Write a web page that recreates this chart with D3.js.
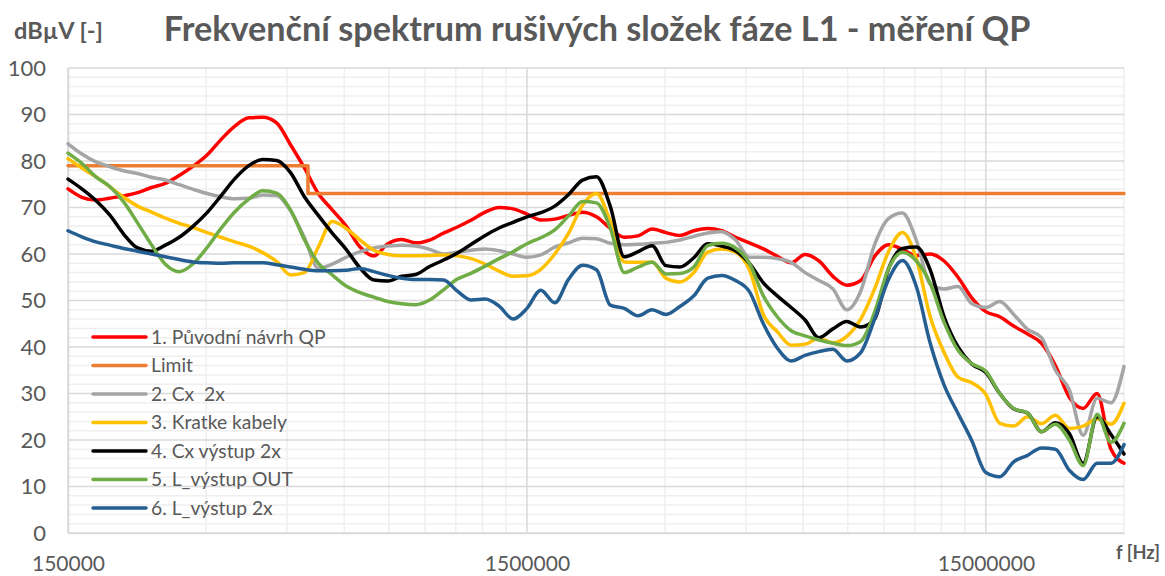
<!DOCTYPE html>
<html>
<head>
<meta charset="utf-8">
<script src="https://cdnjs.cloudflare.com/ajax/libs/d3/7.8.5/d3.min.js"></script>
<style>
  html, body { margin: 0; padding: 0; background: #ffffff; }
  svg { display: block; font-family: Lato, "Open Sans", "Liberation Sans", sans-serif; }
</style>
</head>
<body>
<svg id="chart" width="1165" height="576"></svg>
<script>
// Measurement frequencies (Hz), log spaced, shared by all measured traces
const freqHz = [
  150000, 160800, 172500, 184900, 198300, 212600, 228000, 244500, 262100, 281100,
  301400, 323200, 346500, 371600, 398400, 427200, 458100, 491200, 526700, 564700,
  605600, 649300, 696200, 746600, 800500, 858400, 920400, 986900, 1058200, 1134700,
  1216700, 1304600, 1398900,
  1500000, 1608400, 1724700, 1849200, 1982800, 2126300, 2279800, 2444700, 2621200, 2810700,
  3013800, 3231600, 3465200, 3715700, 3984200, 4272000, 4580800, 4911800, 5266800, 5647400,
  6055500, 6493200, 6962400, 7465500, 8005000, 8583600, 9203900, 9869000, 10582200, 11346900,
  12167000, 13046300, 13989000,
  15000000, 16084500, 17247000, 18492000, 19828500, 21262500, 22798500, 24447000, 26212500, 28107000,
  30000000
];

// Quasi-peak limit (dBµV)
const limitFreq  = [150000, 500000, 500000, 30000000];
const limitLevel = [79, 79, 73, 73];

// Measured levels (dBµV) at freqHz
const puvodniNavrh = [
  74, 72.2, 71.6, 72, 72.5, 73.2, 74.3, 75.2, 76.9, 78.9,
  81.3, 84.6, 87.5, 89.3, 89.4, 88.2, 83.5, 78.5, 73, 69.5,
  66, 61.5, 59.6, 62.2, 63.1, 62.4, 63, 64.5, 65.8, 67.3,
  69, 70, 69.7, 68.6, 67.3, 67.5, 68.3, 69, 68, 65.5,
  63.6, 63.9, 65.4, 64.6, 64, 65, 65.5, 65, 63.6, 62.4,
  61.1, 59.5, 58.1, 59.9, 58.5, 55.2, 53.3, 54.3, 59.5, 62,
  61, 59.7, 60, 58.5, 55, 50.5, 47.6, 46.5, 44.5, 42.8,
  40.8, 36, 29.2, 26.8, 30, 18, 15
];
const cx2x = [
  83.7, 81.5, 79.8, 78.8, 77.9, 77.3, 76.5, 75.9, 74.9, 73.9,
  73, 72.3, 71.9, 72, 72.7, 72.6, 69.3, 63.5, 56.9, 57.8,
  59.3, 60.5, 61.3, 61.7, 61.9, 61.7, 61, 60, 60.4, 60.8,
  61.1, 60.7, 60, 59.3, 59.8, 61.5, 62.4, 63.4, 63.3, 62.3,
  62, 62.1, 62.3, 62.5, 63, 63.8, 64.5, 64.8, 63, 59.3,
  59.3, 59, 58.2, 56, 54.3, 52.5, 48, 52, 62, 67.6,
  68.8, 63, 53.5, 52.5, 53, 49.3, 48.5, 49.8, 47, 43.8,
  42, 35, 30.8, 21, 29, 28, 35.8
];
const kratkeKabely = [
  80.5, 78.5, 76.6, 74.5, 72.2, 70.3, 69, 67.7, 66.6, 65.7,
  64.6, 63.6, 62.6, 61.7, 60.3, 58.4, 55.5, 56, 61.5, 67,
  65.5, 63, 60.8, 59.9, 59.6, 59.6, 59.7, 59.8, 59.6, 59,
  57.8, 56.3, 55.2, 55.3, 56.7, 60, 64.5, 70.5, 73, 67,
  58.3, 58.2, 58.3, 54.8, 54, 56, 60.4, 61.1, 60.4, 56.6,
  47, 43.3, 40.4, 40.6, 41.9, 40.9, 42.3, 46, 52.5, 60.5,
  64.6, 59, 46.5, 38.8, 33.5, 32.3, 29.8, 23.6, 23, 25,
  23.5, 25.3, 22.5, 23, 24.5, 23.4, 27.9
];
const cxVystup2x = [
  76.1, 74, 71.5, 68.4, 64.3, 61.3, 60.6, 61.9, 63.6, 66,
  68.9, 72.5, 76.2, 79, 80.3, 80.1, 77.5, 72.3, 68.3, 64.5,
  61, 57, 54.4, 54.2, 55.2, 55.6, 57.3, 58.7, 60.2, 62.1,
  64, 65.6, 66.8, 68, 68.9, 70.3, 72.8, 75.9, 76.6, 70.2,
  59.4, 60.5, 61.8, 57.5, 57.2, 59.2, 62.2, 61.7, 60.7, 58,
  53.8, 51, 48.5, 45.8, 42, 43.9, 45.5, 44.3, 46, 56.8,
  61.2, 61.5, 56.6, 46.5, 40, 36.3, 34.5, 30, 26.7, 25.8,
  21.8, 23.7, 21.4, 15, 25, 21.2, 17
];
const lVystupOut = [
  81.7, 79.5, 76.6, 74.5, 71.2, 66.7, 62, 57.8, 56.2, 57.9,
  61.4, 65.5, 69.1, 71.8, 73.6, 73.1, 69.5, 63.1, 58, 55.5,
  53.1, 51.7, 50.7, 49.8, 49.3, 49.1, 50.1, 52.3, 54.6, 55.9,
  57.4, 59, 60.5, 62.2, 63.5, 65.2, 68.2, 71.3, 71, 65.5,
  56, 57.2, 58.2, 55.7, 55.8, 57.2, 61.8, 62.3, 61.3, 58,
  51, 46.5, 43.5, 42.4, 41.5, 40.8, 40.3, 41.2, 47.5, 56.8,
  60.4, 58.5, 53.7, 45.3, 39.3, 36.4, 34.8, 30, 26.8, 25.8,
  21.8, 23.4, 20, 14.5, 25.5, 19.5, 23.6
];
const lVystup2x = [
  65, 63.7, 62.6, 61.9, 61.2, 60.6, 60, 59.4, 58.8, 58.3,
  58.1, 58, 58.1, 58.1, 58.1, 57.7, 57.2, 56.7, 56.4, 56.4,
  56.5, 56.9, 56.2, 55.4, 54.8, 54.5, 54.5, 54.4, 52, 50.1,
  50.3, 48.8, 46, 48.3, 52.2, 49.5, 54.6, 57.6, 56.6, 49,
  48.3, 46.7, 48, 47, 48.7, 51, 54.8, 55.4, 54.3, 51.9,
  45, 39.8, 37, 38.2, 39, 39.5, 37, 38.8, 46, 54.5,
  58.6, 53, 40.8, 31.8, 25.7, 19.8, 13, 12.1, 15.3, 16.7,
  18.3, 18, 13.5, 11.5, 15, 15, 19
];

const seriesNames  = ["1. Původní návrh QP", "Limit", "2. Cx  2x", "3. Kratke kabely",
                      "4. Cx výstup 2x", "5. L_výstup OUT", "6. L_výstup 2x"];
const seriesColors = ["#ff0000", "#ed7d31", "#a5a5a5", "#ffc000", "#000000", "#70ad47", "#255e91"];

const levelTicks = [0, 10, 20, 30, 40, 50, 60, 70, 80, 90, 100];
const freqTicks  = [150000, 1500000, 15000000];

const titleText = "Frekvenční spektrum rušivých složek fáze L1 - měření QP";
const yUnitText = "dBµV [-]";
const xUnitText = "f [Hz]";

// ---- layout ----
const svg = d3.select("#chart");
const plot = { left: 68, right: 1124, top: 68, bottom: 533 };
const textColor = "#595959";

const x = d3.scaleLog().domain([150000, 30000000]).range([plot.left, plot.right]);
const y = d3.scaleLinear().domain([0, 100]).range([plot.bottom, plot.top]);

// horizontal grid: minor every 2 dB, major every 10 dB
const minorLevels = d3.range(0, 101, 2).filter(v => v % 10 !== 0);
svg.append("g").selectAll("line").data(minorLevels).join("line")
  .attr("x1", plot.left).attr("x2", plot.right)
  .attr("y1", d => y(d)).attr("y2", d => y(d))
  .attr("stroke", "#efefef").attr("stroke-width", 1.5);

// vertical grid: minor lines at 2..9 × each major tick
const minorFreqs = [];
freqTicks.forEach(b => d3.range(2, 10).forEach(k => { if (b * k <= 30000000) minorFreqs.push(b * k); }));
svg.append("g").selectAll("line").data(minorFreqs).join("line")
  .attr("x1", d => x(d)).attr("x2", d => x(d))
  .attr("y1", plot.top).attr("y2", plot.bottom)
  .attr("stroke", "#efefef").attr("stroke-width", 1.5);

svg.append("g").selectAll("line").data(levelTicks).join("line")
  .attr("x1", plot.left).attr("x2", plot.right)
  .attr("y1", d => y(d)).attr("y2", d => y(d))
  .attr("stroke", "#d9d9d9").attr("stroke-width", 1.5);

svg.append("g").selectAll("line").data(freqTicks).join("line")
  .attr("x1", d => x(d)).attr("x2", d => x(d))
  .attr("y1", plot.top).attr("y2", plot.bottom)
  .attr("stroke", "#d9d9d9").attr("stroke-width", 1.5);

// axes (labels only, Excel style)
const yAxis = d3.axisLeft(y).tickValues(levelTicks).tickSize(0).tickPadding(22);
const gy = svg.append("g").attr("transform", `translate(${plot.left},0)`).call(yAxis);
gy.select(".domain").attr("stroke", "#d9d9d9").attr("stroke-width", 1.5);
gy.selectAll("text").attr("fill", textColor).attr("font-size", 22).attr("font-family", "Lato, sans-serif");

const xAxis = d3.axisBottom(x).tickValues(freqTicks).tickFormat(d3.format("d")).tickSize(0).tickPadding(23);
const gx = svg.append("g").attr("transform", `translate(0,${plot.bottom})`).call(xAxis);
gx.select(".domain").attr("stroke", "#d9d9d9").attr("stroke-width", 1.5);
gx.selectAll("text").attr("fill", textColor).attr("font-size", 21).attr("font-family", "Lato, sans-serif");

// traces
const line = d3.line().x(d => x(d[0])).y(d => y(d[1])).curve(d3.curveMonotoneX);
const stepLine = d3.line().x(d => x(d[0])).y(d => y(d[1]));

const traces = [
  puvodniNavrh.map((v, i) => [freqHz[i], v]),
  limitFreq.map((f, i) => [f, limitLevel[i]]),
  cx2x.map((v, i) => [freqHz[i], v]),
  kratkeKabely.map((v, i) => [freqHz[i], v]),
  cxVystup2x.map((v, i) => [freqHz[i], v]),
  lVystupOut.map((v, i) => [freqHz[i], v]),
  lVystup2x.map((v, i) => [freqHz[i], v])
];

const gLines = svg.append("g");
traces.forEach((pts, i) => {
  gLines.append("path")
    .attr("d", i === 1 ? stepLine(pts) : line(pts))
    .attr("fill", "none")
    .attr("stroke", seriesColors[i])
    .attr("stroke-width", 3.5)
    .attr("stroke-linejoin", "round")
    .attr("stroke-linecap", "round");
});

// legend
const legend = svg.append("g");
seriesNames.forEach((name, i) => {
  const cy = 337 + i * 28.5;
  legend.append("line")
    .attr("x1", 93).attr("x2", 146).attr("y1", cy).attr("y2", cy)
    .attr("stroke", seriesColors[i]).attr("stroke-width", 3.5).attr("stroke-linecap", "round");
  legend.append("text")
    .attr("x", 151).attr("y", cy).attr("dy", "0.35em")
    .attr("font-size", 19.3).attr("fill", textColor)
    .style("white-space", "pre")
    .text(name);
});

function fitWidth(sel, target) {
  const w = sel.node().getComputedTextLength();
  const fs = parseFloat(sel.attr("font-size"));
  sel.attr("font-size", (fs * target / w).toFixed(2));
}

// title and unit labels
const title = svg.append("text")
  .attr("x", 597).attr("y", 41).attr("text-anchor", "middle")
  .attr("font-size", 30).attr("font-weight", "bold").attr("fill", textColor)
  .text(titleText);
fitWidth(title, 867);

const yUnit = svg.append("text")
  .attr("x", 14).attr("y", 39)
  .attr("font-size", 20).attr("font-weight", "bold").attr("fill", textColor)
  .text(yUnitText);
fitWidth(yUnit, 89);

const xUnit = svg.append("text")
  .attr("x", 1160).attr("y", 559).attr("text-anchor", "end")
  .attr("font-size", 19).attr("font-weight", "bold").attr("fill", textColor)
  .text(xUnitText);
fitWidth(xUnit, 44);
</script>
</body>
</html>
